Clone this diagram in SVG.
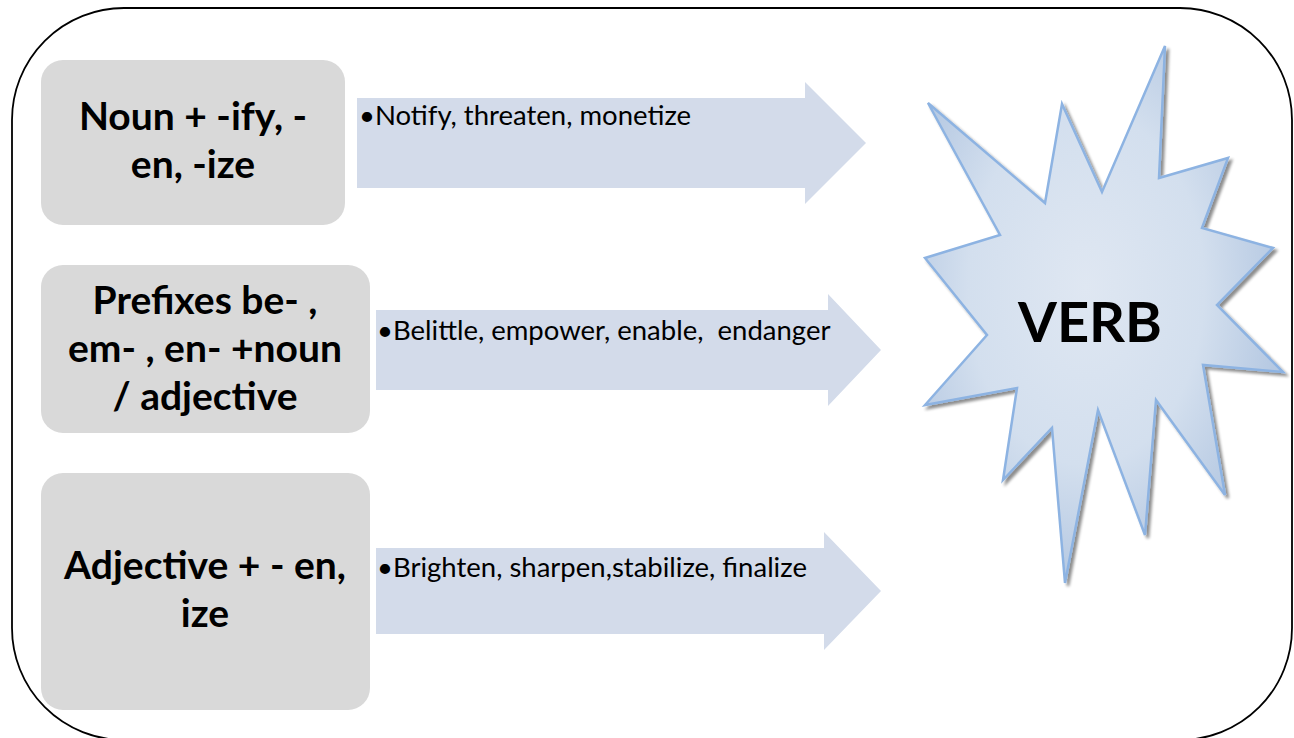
<svg xmlns="http://www.w3.org/2000/svg" width="1294" height="738" viewBox="0 0 1294 738">
  <style>
    .box { fill: #d9d9d9; }
    .boxtxt { font-family: Lato, "Liberation Sans", sans-serif; font-weight: bold; font-size: 39px; fill: #000; text-anchor: middle; }
    .arrow { fill: #d3dbea; }
    .arrtxt { font-family: Lato, "Liberation Sans", sans-serif; font-size: 27.5px; fill: #000; white-space: pre; }
    .verb { font-family: Lato, "Liberation Sans", sans-serif; font-weight: bold; font-size: 56px; fill: #000; text-anchor: middle; }
  </style>
  <defs>
    <radialGradient id="starGrad" cx="0.45" cy="0.45" r="0.6">
      <stop offset="0" stop-color="#dfe7f2"/>
      <stop offset="0.55" stop-color="#d3dfee"/>
      <stop offset="1" stop-color="#aec3df"/>
    </radialGradient>
    <filter id="shadow" x="-10%" y="-10%" width="125%" height="125%">
      <feGaussianBlur in="SourceAlpha" stdDeviation="1.6"/>
      <feOffset dx="3" dy="3" result="b"/>
      <feComponentTransfer><feFuncA type="linear" slope="0.45"/></feComponentTransfer>
      <feMerge><feMergeNode/><feMergeNode in="SourceGraphic"/></feMerge>
    </filter>
  </defs>
  <rect width="1294" height="738" fill="#ffffff"/>
  <rect id="frame" x="12" y="8" width="1280" height="732" rx="112" ry="112" fill="none" stroke="#000" stroke-width="1.8"/>

  <g id="connectors">
    <g id="arrow1">
      <polygon class="arrow" points="357,98 805,98 805,82 866,143 805,204 805,188 357,188"/>
      <text class="arrtxt" x="359" y="125">•Notify, threaten, monetize</text>
    </g>
    <g id="arrow2">
      <polygon class="arrow" points="376,310 828,310 828,294 881,350 828,406 828,390 376,390"/>
      <text class="arrtxt" x="377" y="340" xml:space="preserve">•Belittle, empower, enable,  endanger</text>
    </g>
    <g id="arrow3">
      <polygon class="arrow" points="376,548 824,548 824,532 881,591 824,650 824,634 376,634"/>
      <text class="arrtxt" x="377" y="577">•Brighten, sharpen,stabilize, finalize</text>
    </g>
  </g>

  <g id="node1">
    <rect class="box" x="41" y="60" width="304" height="165" rx="22"/>
    <text class="boxtxt" x="193" y="130">Noun + -ify, -</text>
    <text class="boxtxt" x="193" y="178">en, -ize</text>
  </g>
  <g id="node2">
    <rect class="box" x="41" y="265" width="329" height="168" rx="22"/>
    <text class="boxtxt" x="205" y="314">Prefixes be- ,</text>
    <text class="boxtxt" x="205" y="362">em- , en- +noun</text>
    <text class="boxtxt" x="205" y="410">/ adjective</text>
  </g>
  <g id="node3">
    <rect class="box" x="41" y="473" width="329" height="237" rx="22"/>
    <text class="boxtxt" x="205" y="579">Adjective + - en,</text>
    <text class="boxtxt" x="205" y="627">ize</text>
  </g>

  <g id="verb">
    <polygon filter="url(#shadow)" fill="url(#starGrad)" stroke="#8db3e2" stroke-width="2.5" stroke-linejoin="miter" points="928,103 1045,203 1062,104 1102,192 1165,46 1159,178 1228,158 1202,228 1273,248 1217,305 1283,372 1203,365 1225,495 1156,400 1145,535 1098,410 1065,583 1052,428 1003,480 1017,388 925,405 987,335 925,258 1000,235"/>
    <text class="verb" x="1090" y="342">VERB</text>
  </g>
</svg>
